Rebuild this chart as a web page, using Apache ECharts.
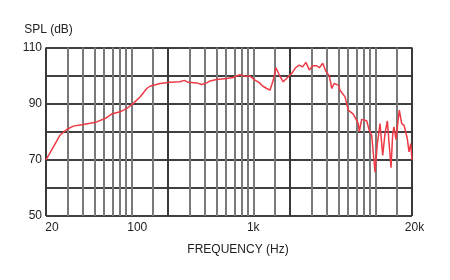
<!DOCTYPE html>
<html>
<head>
<meta charset="utf-8">
<script src="https://cdn.jsdelivr.net/npm/echarts@6/dist/echarts.min.js"></script>
<style>
  html, body { margin: 0; padding: 0; background: #ffffff; }
  #chart { width: 450px; height: 280px; }
</style>
</head>
<body>
<div id="chart"></div>
<script>
// Frequency response data (Hz, dB SPL)
var freqs = [20, 23, 26, 29.6, 33.5, 40.4, 46, 52, 61, 69, 81, 92, 104, 118, 134, 142, 172, 208, 251, 272, 293, 344, 378, 415, 442, 501, 606, 682, 778, 856, 940, 1033, 1120, 1200, 1290, 1370, 1460, 1535, 1635, 1760, 1935, 2070, 2200, 2380, 2540, 2700, 2880, 3070, 3310, 3480, 3710, 3950, 4200, 4400, 4590, 4980, 5140, 5650, 6010, 6600, 7260, 7400, 7740, 8500, 8930, 9350, 9950, 10400, 10940, 11500, 12020, 12560, 13460, 13900, 14240, 14780, 15740, 16480, 17200, 18300, 18900, 19520, 20000];
var spl = [70, 74.6, 78.75, 80.8, 82, 82.6, 83, 83.5, 84.7, 86.3, 87.1, 88.3, 90.1, 92.4, 95.4, 96.2, 97.2, 97.6, 97.8, 98.3, 97.6, 97.4, 96.8, 97.4, 98.1, 98.6, 99, 99.3, 100.3, 99.8, 99.8, 98.4, 97.5, 96.2, 95.4, 94.8, 98.4, 102.8, 100.2, 97.8, 99.6, 100.8, 102.6, 103.75, 103.1, 104.7, 102, 103.5, 103.5, 102.8, 104.4, 101.4, 99.9, 95.4, 97.2, 96.6, 94.8, 92.4, 87.7, 86.3, 82.9, 80, 84.4, 83.9, 80.5, 78.75, 65.6, 75.8, 82.9, 71.6, 79.4, 83.9, 67.2, 79.4, 81.7, 77.2, 87.7, 82.9, 82.3, 77.6, 72.8, 75.8, 70];

// Vertical grid line frequencies and tick labels
var gridFreqs = [20, 30, 40, 50, 60, 70, 80, 90, 100, 150, 200, 300, 400, 500, 600, 700, 800, 900, 1000, 1500, 2000, 3000, 4000, 5000, 6000, 7000, 8000, 9000, 10000, 15000, 20000];
var darkFreqs = [20, 200, 2000, 20000];
var xTickLabels = [20, 100, 1000, 20000];
var yTickLabels = [50, 70, 90, 110];

var FONT = '"Liberation Sans", Arial, sans-serif';

var gridColors = gridFreqs.map(function (f) {
  return darkFreqs.indexOf(f) >= 0 ? '#3a3a3a' : '#7a7a7a';
});

var chart = echarts.init(document.getElementById('chart'), null, { renderer: 'canvas' });
chart.setOption({
  animation: false,
  backgroundColor: '#ffffff',
  grid: { left: 46, right: 38, top: 47.5, bottom: 64, containLabel: false },
  xAxis: {
    type: 'log',
    logBase: 10,
    min: 20,
    max: 20000,
    name: 'FREQUENCY (Hz)',
    nameLocation: 'middle',
    nameGap: 28,
    nameTextStyle: { fontFamily: FONT, fontSize: 12, color: '#222', padding: [0, 0, 0, 18] },
    axisLine: { show: false },
    axisTick: { show: false, customValues: gridFreqs },
    splitLine: { show: true, lineStyle: { color: gridColors, width: 2 } },
    minorSplitLine: { show: false },
    axisLabel: {
      customValues: xTickLabels,
      margin: 6,
      fontFamily: FONT,
      fontSize: 12,
      color: '#222',
      formatter: function (v) {
        var t = v >= 1000 ? (v / 1000) + 'k' : String(v);
        if (v === 20 || v === 100) return '{s|' + t + '}';
        if (v === 20000) return '{e|' + t + '}';
        return t;
      },
      rich: {
        s: { fontFamily: FONT, fontSize: 12, color: '#222', padding: [0, 0, 0, 12] },
        e: { fontFamily: FONT, fontSize: 12, color: '#222', padding: [0, 0, 0, 5] }
      }
    }
  },
  yAxis: {
    type: 'value',
    min: 50,
    max: 110,
    interval: 10,
    name: 'SPL (dB)',
    nameLocation: 'end',
    nameGap: 12,
    nameTextStyle: { fontFamily: FONT, fontSize: 12, color: '#222', align: 'center', padding: [0, 0, 0, 5] },
    axisLine: { show: false },
    axisTick: { show: false },
    splitLine: { show: true, lineStyle: { color: '#404040', width: 2 } },
    axisLabel: {
      margin: 4,
      fontFamily: FONT,
      fontSize: 12,
      color: '#222',
      formatter: function (v) {
        return yTickLabels.indexOf(v) >= 0 ? String(v) : '';
      }
    }
  },
  series: [{
    type: 'line',
    data: freqs.map(function (f, i) { return [f, spl[i]]; }),
    showSymbol: false,
    smooth: false,
    lineStyle: { color: '#ee3a45', width: 1.5 },
    z: 5
  }]
});
</script>
</body>
</html>
